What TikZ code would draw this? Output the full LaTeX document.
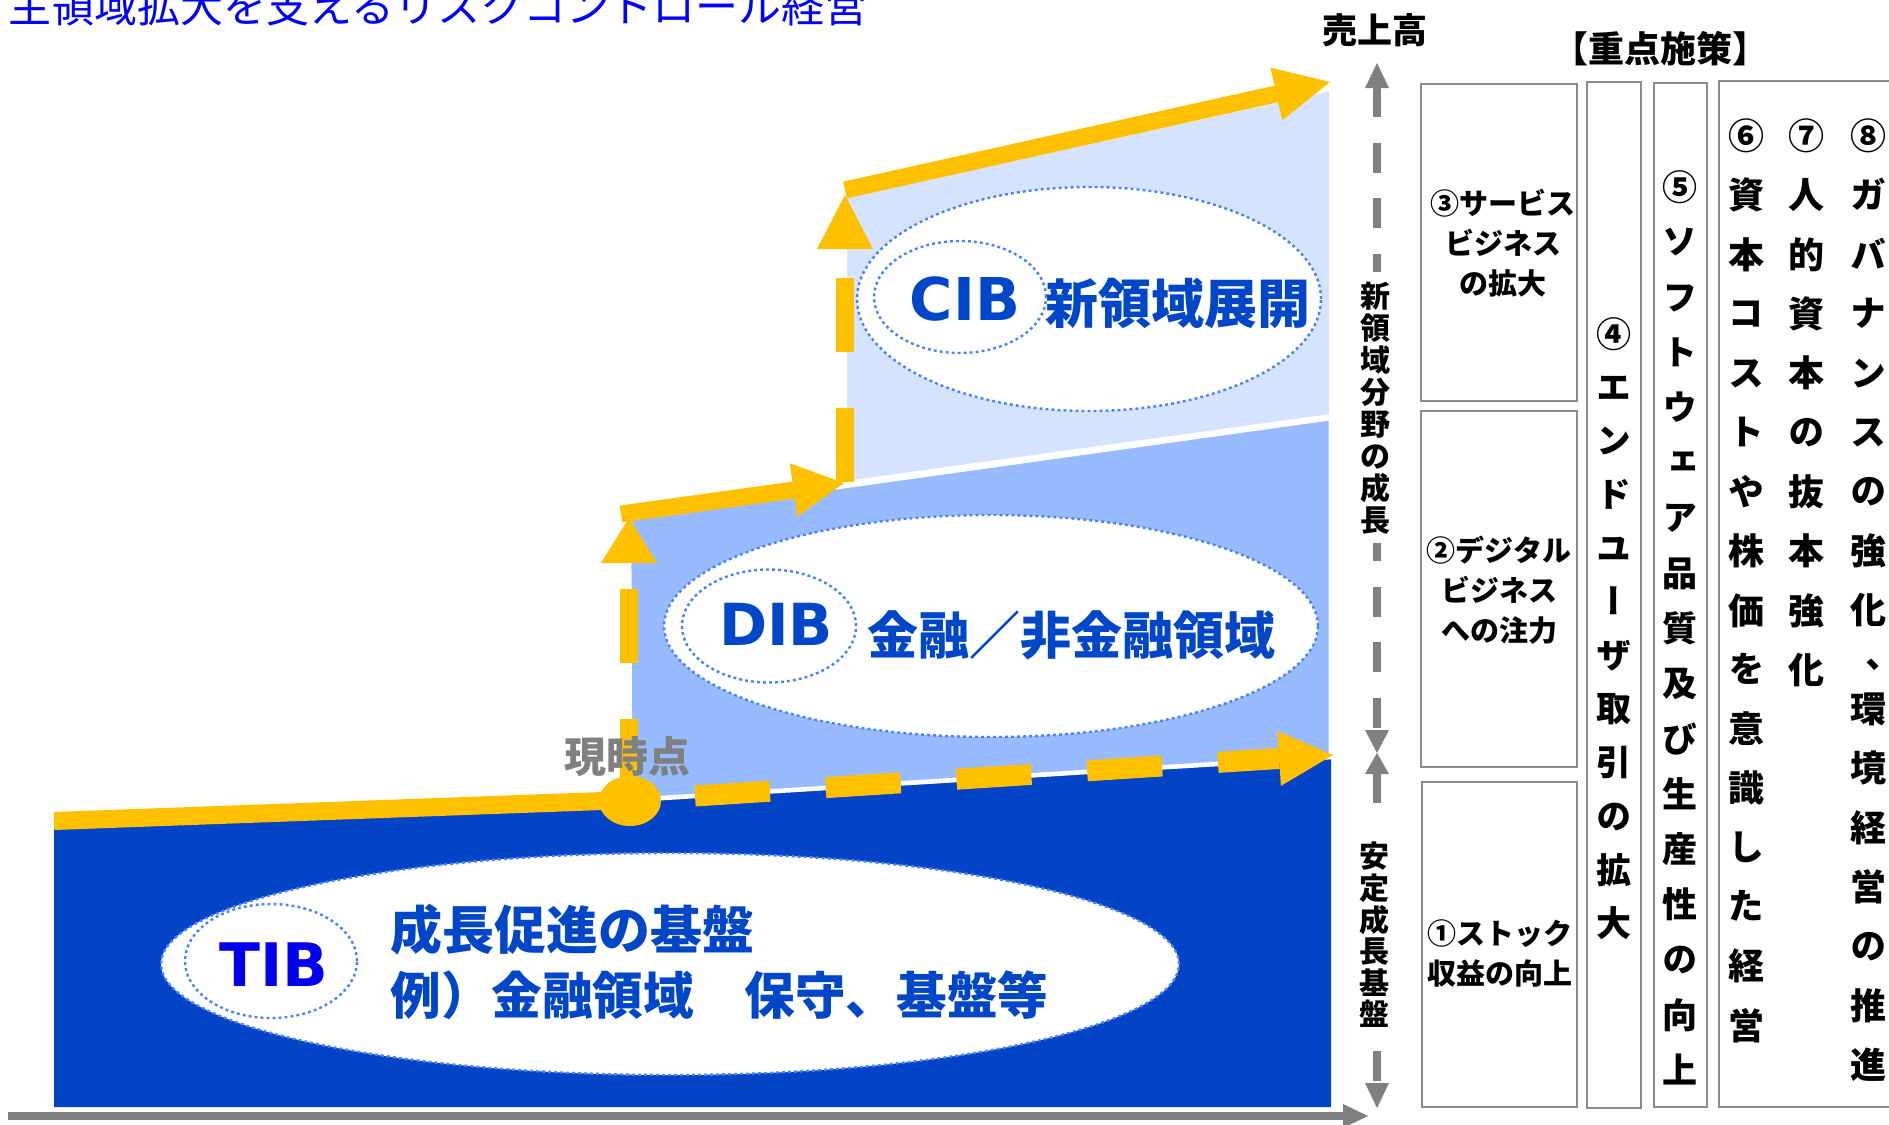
\documentclass[tikz,border=0pt]{standalone}
\usepackage{fontspec}
\setmainfont{Noto Sans CJK JP}
\newfontfamily\jpv{Noto Sans CJK JP}[Script=CJK,RawFeature=+vert]
\newfontfamily\latf{DejaVu Sans}
\usetikzlibrary{calc,shapes.geometric}
\definecolor{dkblue}{RGB}{3,68,199}
\definecolor{mdblue}{RGB}{152,186,255}
\definecolor{ltblue}{RGB}{214,227,255}
\definecolor{gold}{RGB}{255,192,0}
\definecolor{txtblue}{RGB}{0,70,200}
\definecolor{tibblue}{RGB}{0,0,235}
\definecolor{dotblue}{RGB}{70,130,255}
\definecolor{axgray}{RGB}{128,128,128}
\definecolor{boxgray}{RGB}{140,140,140}
\definecolor{titleblue}{RGB}{0,0,255}
\newcommand\fs[2]{\fontsize{#1}{#2}\selectfont}
\newcommand\V{\vphantom{国}}
\newcommand\headat[5]{%
  \coordinate (hb) at ($(#1)!#3!(#2)$);
  \fill[#5] (#1) -- ($(hb)!#4!90:(#1)$) -- ($(hb)!#4!-90:(#1)$) -- cycle;}
\tikzset{
  ell/.style={ellipse, draw=dotblue, fill=white, line width=1.2pt,
    dash pattern=on 1.4pt off 1.6pt, inner sep=0pt},
  latlbl/.style={inner sep=0pt, font=\latf\bfseries\fs{29.5pt}{30pt}},
  jplbl/.style={inner sep=0pt, font=\bfseries\fs{26pt}{27pt}, text=txtblue},
  ybar/.style={draw=gold, line width=8.5pt},
  ydash/.style={draw=gold, line width=9pt, dash pattern=on 37pt off 28pt},
  axdash/.style={draw=axgray, line width=4pt, dash pattern=on 15pt off 12.75pt},
  pbox/.style={draw=boxgray, line width=1.1pt},
  boxtxt/.style={inner sep=0pt, align=center, font=\bfseries\fs{14.5pt}{20pt}},
  vch/.style={inner sep=0pt, font=\jpv\bfseries\fs{17.5pt}{18pt}},
  vchb/.style={inner sep=0pt, font=\jpv\bfseries\fs{18pt}{18pt}},
  axtxt/.style={inner sep=0pt, font=\bfseries\fs{15pt}{15pt}},
}
\begin{document}
\begin{tikzpicture}[x=0.5pt, y=-0.5pt]
\useasboundingbox (0,0) rectangle (1889,1124);
% regions
\fill[dkblue] (54,822) -- (630,800) -- (1331,756) -- (1331,1107) -- (54,1107) -- cycle;
\filldraw[fill=mdblue, draw=white, line width=2.3pt] (629,516) -- (845,486) -- (1331,418) -- (1331,757) -- (630,800) -- cycle;
\filldraw[fill=ltblue, draw=white, line width=2pt] (845,196) -- (1331,89) -- (1331,416) -- (845,483) -- cycle;
% ellipses
\node[ell, minimum width=232pt, minimum height=112pt] (cibE) at (1089,299) {};
\node[ell, minimum width=86pt, minimum height=56pt] (cibS) at (960,297) {};
\node[latlbl, text=txtblue] (cibT) at (965,299) {CIB};
\node[jplbl, font=\bfseries\fs{26.5pt}{27pt}] (cibJ) at (1178,303) {\V 新領域展開};
\node[ell, minimum width=327pt, minimum height=111pt] (dibE) at (991,626) {};
\node[ell, minimum width=87pt, minimum height=56.5pt] (dibS) at (769,626) {};
\node[latlbl, font=\latf\bfseries\fs{29pt}{30pt}, text=txtblue] (dibT) at (776,624) {DIB};
\node[jplbl, font=\bfseries\fs{25.5pt}{26pt}] (dibJ) at (1071,635) {\V 金融／非金融領域};
\node[ell, minimum width=509pt, minimum height=111pt] (tibE) at (670,964) {};
\node[ell, minimum width=86pt, minimum height=57pt] (tibS) at (271,961) {};
\node[latlbl, font=\latf\bfseries\fs{30pt}{30pt}, text=tibblue] (tibT) at (274,965) {TIB};
\node[jplbl, anchor=west] (tibJ1) at (390,930) {\V 成長促進の基盤};
\node[jplbl, anchor=west, font=\bfseries\fs{25.3pt}{26pt}] (tibJ2) at (390,995) {\V 例）金融領域　保守、基盤等};
% yellow path
\draw[ybar, line width=9pt] (54,821) -- (630,800);
\coordinate (hA) at (695,796); \coordinate (hT) at (1333,755);
\headat{hT}{hA}{27pt}{13.75pt}{gold}
\draw[ydash, line width=10.5pt, dash pattern=on 37.5pt off 28pt] (hA) -- (hb);
\coordinate (v1A) at (629,793); \coordinate (v1T) at (629,518);
\headat{v1T}{v1A}{22.5pt}{14pt}{gold}
\draw[ydash] (v1A) -- (hb);
\coordinate (dA) at (621,514); \coordinate (dT) at (844,483);
\headat{dT}{dA}{25.5pt}{13.5pt}{gold}
\draw[ybar] (dA) -- (hb);
\coordinate (v2A) at (845,482); \coordinate (v2T) at (845,195);
\headat{v2T}{v2A}{27pt}{14pt}{gold}
\draw[ydash] (v2A) -- (hb);
\coordinate (tA) at (845,190); \coordinate (tT) at (1330,82);
\headat{tT}{tA}{27.5pt}{13.5pt}{gold}
\draw[ybar] (tA) -- (hb);
\node[ellipse, fill=gold, minimum width=31pt, minimum height=25pt, inner sep=0pt] (now) at (630,801) {};
\node[inner sep=0pt, font=\bfseries\fs{21pt}{21pt}, text=axgray] (nowT) at (627,757) {\V 現時点};
% axes
\draw[axgray, line width=4pt] (8,1116) -- (1344,1116);
\fill[axgray] (1368,1116) -- (1343,1104) -- (1343,1128) -- cycle;
\draw[axdash] (1377,87) -- (1377,730);
\draw[axdash] (1377,773) -- (1377,1084);
\fill[white] (1358,272) rectangle (1396,543);
\fill[white] (1358,806) rectangle (1396,1046);
\fill[axgray] (1377,63) -- (1365,88) -- (1389,88) -- cycle;
\fill[axgray] (1377,753) -- (1365,730) -- (1389,730) -- cycle;
\fill[axgray] (1377,753) -- (1365,774) -- (1389,774) -- cycle;
\fill[axgray] (1377,1108) -- (1365,1083) -- (1389,1083) -- cycle;
\foreach \cc [count=\i from 0] in {新,領,域,分,野,の,成,長}
  \node[axtxt] (axa-\i) at (1375,{296.5+\i*32}) {\V\cc};
\foreach \cc [count=\i from 0] in {安,定,成,長,基,盤}
  \node[axtxt] (axb-\i) at (1374,{856.5+\i*31.6}) {\V\cc};
% labels
\node[inner sep=0pt, font=\bfseries\fs{17.5pt}{18pt}] (sales) at (1375,30) {\V 売上高};
\node[inner sep=0pt, font=\bfseries\fs{18pt}{18pt}] (keyT) at (1660,49) {\V【重点施策】};
\node[anchor=base west, inner sep=0pt, font=\fs{21.5pt}{22pt}, text=titleblue] (title) at (8,22) {主領域拡大を支えるリスクコントロール経営};
% boxes
\draw[pbox] (1421,84) rectangle (1577,401);
\draw[pbox] (1421,411) rectangle (1577,767);
\draw[pbox] (1422,782) rectangle (1577,1107);
\draw[pbox] (1587,82) rectangle (1641,1108);
\draw[pbox] (1654,83) rectangle (1707,1107);
\draw[pbox] (1719,81) rectangle (1910,1107);
\node[boxtxt] (b3) at (1503,243) {③サービス\\ビジネス\\の拡大};
\node[boxtxt] (b2) at (1499,590) {②デジタル\\ビジネス\\への注力};
\node[boxtxt] (b1) at (1500,953) {①ストック\\収益の向上};
\foreach \cc [count=\i from 0] in {④,エ,ン,ド,ユ,ー,ザ,取,引,の,拡,大}
  \node[vch] (c4-\i) at (1614,{334+\i*53.6}) {\V\cc};
\foreach \cc [count=\i from 0] in {⑤,ソ,フ,ト,ウ,ェ,ア,品,質,及,び,生,産,性,の,向,上}
  \node[vch] (c5-\i) at (1680,{187+\i*55.2}) {\V\cc};
\foreach \cc [count=\i from 0] in {⑥,資,本,コ,ス,ト,や,株,価,を,意,識,し,た,経,営}
  \node[vchb] (c6-\i) at (1746,{136+\i*59.3}) {\V\cc};
\foreach \cc [count=\i from 0] in {⑦,人,的,資,本,の,抜,本,強,化}
  \node[vchb] (c7-\i) at (1806,{136+\i*59.3}) {\V\cc};
\foreach \cc [count=\i from 0] in {⑧,ガ,バ,ナ,ン,ス,の,強,化}
  \node[vchb] (c8-\i) at (1868,{136+\i*59.3}) {\V\cc};
\node[vchb] (c8-comma) at (1862,676) {\V、};
\foreach \cc [count=\i from 0] in {環,境,経,営,の,推,進}
  \node[vchb] (c8b-\i) at (1868,{709+\i*59.3}) {\V\cc};
\end{tikzpicture}
\end{document}
